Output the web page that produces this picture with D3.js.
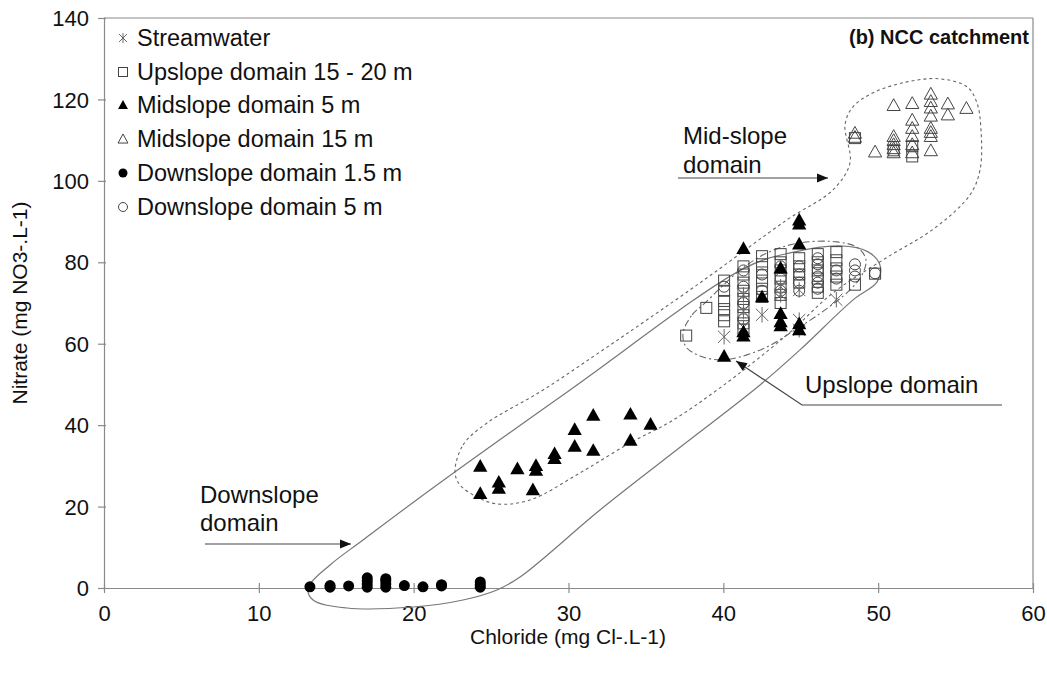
<!DOCTYPE html>
<html>
<head>
<meta charset="utf-8">
<script src="https://cdn.jsdelivr.net/npm/d3@7"></script>
<style>
  html, body { margin: 0; padding: 0; background: #fff; }
  svg { display: block; }
  text { font-family: "Liberation Sans", Arial, sans-serif; fill: #111; }
</style>
</head>
<body>
<svg id="chart" width="1047" height="681"></svg>
<script>
// ---------------- DATA ----------------
const xTicks = [0, 10, 20, 30, 40, 50, 60];
const yTicks = [0, 20, 40, 60, 80, 100, 120, 140];
const xTitle = "Chloride (mg Cl-.L-1)";
const yTitle = "Nitrate (mg NO3-.L-1)";
const panelTitle = "(b) NCC catchment";

const seriesNames = [
  "Streamwater",
  "Upslope domain 15 - 20 m",
  "Midslope domain 5 m",
  "Midslope domain 15 m",
  "Downslope domain 1.5 m",
  "Downslope domain 5 m"
];

// [chloride, nitrate]
const streamwater = [
  [40.05, 61.7], [41.3, 64.0], [41.3, 68.0], [42.5, 67.1], [43.7, 72.0],
  [43.7, 74.0], [44.9, 73.2], [44.9, 65.8], [44.9, 63.4], [47.3, 70.8], [41.3, 72.0]
];
const upslope1520 = [
  [37.6, 62.0], [38.9, 68.8],
  [40.05, 75.5], [40.05, 73.0], [40.05, 70.5], [40.05, 68.5], [40.05, 67.0], [40.05, 65.5],
  [41.3, 79.0], [41.3, 77.0], [41.3, 75.0], [41.3, 73.0], [41.3, 71.0], [41.3, 69.0], [41.3, 67.0], [41.3, 65.0], [41.3, 63.5],
  [42.5, 81.5], [42.5, 79.5], [42.5, 77.5], [42.5, 75.5], [42.5, 73.5], [42.5, 71.5],
  [43.7, 82.0], [43.7, 80.0], [43.7, 78.0], [43.7, 76.0], [43.7, 74.0], [43.7, 72.0], [43.7, 70.0],
  [44.9, 81.0], [44.9, 79.0], [44.9, 77.0], [44.9, 75.0],
  [46.1, 82.0], [46.1, 80.0], [46.1, 78.0], [46.1, 76.0], [46.1, 74.0], [46.1, 72.5],
  [47.3, 82.5], [47.3, 80.5], [47.3, 78.5], [47.3, 76.5], [47.3, 74.5],
  [48.5, 74.5], [49.8, 77.2],
  [48.5, 110.5], [51.0, 107.5], [52.2, 106.0], [52.2, 108.5]
];
const midslope5 = [
  [24.3, 30.0], [24.3, 23.3], [25.5, 26.1], [25.5, 24.6], [26.7, 29.4], [27.9, 30.2],
  [27.9, 29.0], [27.7, 24.2], [29.1, 33.1], [29.1, 31.9], [30.4, 39.0], [30.4, 34.9],
  [31.6, 42.5], [31.6, 33.9], [34.0, 42.8], [34.0, 36.4], [35.3, 40.3],
  [40.05, 57.0], [41.3, 83.5], [41.3, 63.0], [41.3, 62.0], [42.5, 71.6],
  [43.7, 78.7], [43.7, 67.5], [43.7, 65.5], [43.7, 64.5],
  [44.9, 90.5], [44.9, 89.5], [44.9, 84.6], [44.9, 65.0], [44.9, 63.5]
];
const midslope15 = [
  [48.5, 111.8], [48.5, 110.8], [49.8, 107.2],
  [51.0, 118.6], [51.0, 111.0], [51.0, 110.0], [51.0, 109.0], [51.0, 108.0], [51.0, 107.0],
  [52.2, 119.1], [52.2, 115.0], [52.2, 113.0], [52.2, 111.0], [52.2, 109.0], [52.2, 107.0],
  [53.4, 121.4], [53.4, 119.6], [53.4, 118.0], [53.4, 116.0], [53.4, 113.0], [53.4, 112.0], [53.4, 111.0], [53.4, 107.5],
  [54.5, 119.0], [54.5, 116.3], [55.7, 117.9]
];
const downslope15 = [
  [13.3, 0.3], [14.6, 0.2], [14.6, 0.6], [15.8, 0.5], [17.0, 0.2], [17.0, 1.0], [17.0, 1.8], [17.0, 2.5],
  [18.2, 0.2], [18.2, 1.0], [18.2, 1.8], [18.2, 2.3], [19.4, 0.6], [20.6, 0.3], [21.8, 0.5], [21.8, 0.8],
  [24.3, 0.2], [24.3, 0.8], [24.3, 1.5]
];
const downslope5 = [
  [40.05, 74.0], [41.3, 78.0], [41.3, 74.0], [41.3, 70.0], [41.3, 66.0],
  [42.5, 77.0], [42.5, 73.0], [43.7, 79.0], [43.7, 76.0], [43.7, 73.0],
  [44.9, 79.0], [44.9, 77.0], [44.9, 75.0], [44.9, 73.0],
  [46.1, 81.0], [46.1, 79.5], [46.1, 78.0], [46.1, 76.5], [46.1, 75.0], [46.1, 73.5],
  [47.3, 78.0], [47.3, 76.0], [48.5, 79.5], [48.5, 78.0], [48.5, 76.5], [49.8, 77.3]
];

// Domain envelopes (data units)
const downslopeEnvelope = [
  [13.18, 0], [14.6, 5.65], [16.73, 11.79], [21.06, 24.08], [30.10, 48.65], [41.4, 78.62],
  [44.31, 82.31], [47.54, 84.03], [49.35, 82.56], [50.13, 79.12], [49.93, 75.18], [48.38, 70.76],
  [44.95, 58.48], [42.37, 49.88], [36.56, 32.68], [32.03, 19.16], [26.87, 2.7], [25.38, -0.49],
  [23.19, -2.95], [19.96, -4.67], [15.69, -4.91], [13.5, -2.95]
];
const midslopeEnvelope = [
  [22.67, 28.5], [23.19, 35.14], [24.74, 40.54], [28.16, 48.16], [32.04, 57.99], [38.49, 74.94],
  [44.11, 90.42], [47.08, 97.79], [48.18, 104.42], [47.86, 113.76], [48.37, 118.18], [49.67, 121.62],
  [51.86, 124.32], [53.99, 125.06], [55.74, 123.1], [56.38, 119.16], [56.64, 112.53], [56.58, 102.7],
  [55.93, 96.56], [53.67, 88.45], [50.31, 80.59], [47.08, 72.48], [44.11, 62.16], [39.78, 49.14],
  [36.56, 40.79], [33.97, 35.63], [30.74, 28.26], [27.51, 21.62], [25.38, 20.64], [24.09, 22.36], [22.99, 25.31]
];
const upslopeEnvelope = [
  [37.4, 62.65], [37.98, 67.08], [38.82, 70.02], [40.95, 77.64], [42.82, 82.31], [44.95, 84.77],
  [47.34, 85.01], [48.7, 83.54], [49.21, 80.59], [48.96, 76.9], [48.18, 73.22], [46.57, 68.3],
  [44.63, 63.39], [42.82, 59.21], [41.08, 56.76], [39.79, 56.02], [38.49, 57.0], [37.59, 59.21]
];

// ---------------- CHART ----------------
const svg = d3.select("#chart");
const x = d3.scaleLinear().domain([0, 60]).range([104, 1033]);
const y = d3.scaleLinear().domain([0, 140]).range([588, 18]);
const AX = "#8a8a8a";

// frame top & right
svg.append("line").attr("x1", x(0)).attr("x2", x(60)).attr("y1", y(140)).attr("y2", y(140)).attr("stroke", AX).attr("stroke-width", 1.2);
svg.append("line").attr("x1", x(60)).attr("x2", x(60)).attr("y1", y(140)).attr("y2", y(0)).attr("stroke", AX).attr("stroke-width", 1.2);

// axes
const gx = svg.append("g").attr("transform", `translate(0,${y(0)})`)
  .call(d3.axisBottom(x).tickValues(xTicks).tickSize(0).tickPadding(0).tickFormat(d3.format("d")));
gx.select(".domain").attr("stroke", AX).attr("stroke-width", 1.2);
gx.selectAll(".tick line").attr("y1", -5).attr("y2", 5).attr("stroke", AX).attr("stroke-width", 1.2);
gx.selectAll(".tick text").attr("y", 25).attr("dy", "0.35em").style("font-size", "22px").attr("fill", "#111");

const gy = svg.append("g").attr("transform", `translate(${x(0)},0)`)
  .call(d3.axisLeft(y).tickValues(yTicks).tickSize(0).tickPadding(0).tickFormat(d3.format("d")));
gy.select(".domain").attr("stroke", AX).attr("stroke-width", 1.2);
gy.selectAll(".tick line").attr("x1", -6).attr("x2", 2).attr("stroke", AX).attr("stroke-width", 1.2);
gy.selectAll(".tick text").attr("x", -15).attr("dy", "0.35em").style("font-size", "22px").attr("fill", "#111");
gx.attr("font-family", null); gy.attr("font-family", null);

// titles
svg.append("text").attr("x", 568).attr("y", 644).attr("text-anchor", "middle").style("font-size", "21px").text(xTitle);
svg.append("text").attr("transform", `translate(27,${y(70)}) rotate(-90)`).attr("text-anchor", "middle").style("font-size", "21px").text(yTitle);
svg.append("text").attr("x", 1029).attr("y", 44).attr("text-anchor", "end").style("font-size", "20px").style("font-weight", "bold").text(panelTitle);

// envelopes
const env = d3.line().x(d => x(d[0])).y(d => y(d[1])).curve(d3.curveCatmullRomClosed.alpha(0.5));
svg.append("path").attr("d", env(downslopeEnvelope)).attr("fill", "none").attr("stroke", "#777").attr("stroke-width", 1.2);
svg.append("path").attr("d", env(midslopeEnvelope)).attr("fill", "none").attr("stroke", "#666").attr("stroke-width", 1.1).attr("stroke-dasharray", "3,3");
svg.append("path").attr("d", env(upslopeEnvelope)).attr("fill", "none").attr("stroke", "#666").attr("stroke-width", 1.1).attr("stroke-dasharray", "7,3,2,3");

// markers
const STROKE = "#444";
function drawMarker(g, type, cx, cy, s) {
  if (type === "star") {
    const r = s * 0.55;
    g.append("path").attr("d",
      `M${cx},${cy - r}L${cx},${cy + r}M${cx - r * 0.8},${cy - r * 0.8}L${cx + r * 0.8},${cy + r * 0.8}M${cx - r * 0.8},${cy + r * 0.8}L${cx + r * 0.8},${cy - r * 0.8}`)
      .attr("stroke", "#666").attr("stroke-width", 1).attr("fill", "none");
  } else if (type === "square") {
    g.append("rect").attr("x", cx - s / 2).attr("y", cy - s / 2).attr("width", s).attr("height", s)
      .attr("fill", "none").attr("stroke", STROKE).attr("stroke-width", 1);
  } else if (type === "triF" || type === "triO") {
    const h = s * 0.9, w = s * 1.1;
    const d = `M${cx},${cy - h / 2 - 1}L${cx + w / 2},${cy + h / 2}L${cx - w / 2},${cy + h / 2}Z`;
    if (type === "triF") g.append("path").attr("d", d).attr("fill", "#000");
    else g.append("path").attr("d", d).attr("fill", "none").attr("stroke", STROKE).attr("stroke-width", 1);
  } else if (type === "circF") {
    g.append("circle").attr("cx", cx).attr("cy", cy).attr("r", s / 2).attr("fill", "#000");
  } else if (type === "circO") {
    g.append("circle").attr("cx", cx).attr("cy", cy).attr("r", s / 2).attr("fill", "none").attr("stroke", STROKE).attr("stroke-width", 1);
  }
}

const series = [
  { data: upslope1520, type: "square", size: 11 },
  { data: downslope5, type: "circO", size: 11 },
  { data: midslope15, type: "triO", size: 12 },
  { data: streamwater, type: "star", size: 14 },
  { data: midslope5, type: "triF", size: 13 },
  { data: downslope15, type: "circF", size: 11 }
];
const marks = svg.append("g");
series.forEach(s => s.data.forEach(d => drawMarker(marks, s.type, x(d[0]), y(d[1]), s.size)));

// legend
const legendTypes = ["star", "square", "triF", "triO", "circF", "circO"];
const legendY = [38, 72, 105, 139, 173, 207];
const lg = svg.append("g");
seriesNames.forEach((name, i) => {
  drawMarker(lg, legendTypes[i], 123, legendY[i], 9);
  lg.append("text").attr("x", 137).attr("y", legendY[i]).attr("dy", "0.35em").style("font-size", "23.5px").text(name);
});

// annotations
function arrow(pts) {
  svg.append("path").attr("d", d3.line()(pts)).attr("fill", "none").attr("stroke", "#444").attr("stroke-width", 1.2);
  const [a, b] = [pts[pts.length - 2], pts[pts.length - 1]];
  const ang = Math.atan2(b[1] - a[1], b[0] - a[0]);
  const L = 11, W = 4.5;
  const p1 = [b[0] - L * Math.cos(ang) + W * Math.sin(ang), b[1] - L * Math.sin(ang) - W * Math.cos(ang)];
  const p2 = [b[0] - L * Math.cos(ang) - W * Math.sin(ang), b[1] - L * Math.sin(ang) + W * Math.cos(ang)];
  svg.append("path").attr("d", `M${b[0]},${b[1]}L${p1[0]},${p1[1]}L${p2[0]},${p2[1]}Z`).attr("fill", "#111");
}
svg.append("text").attr("x", 683).attr("y", 144).style("font-size", "24px").text("Mid-slope");
svg.append("text").attr("x", 683).attr("y", 173).style("font-size", "24px").text("domain");
arrow([[678, 178], [828, 178]]);

svg.append("text").attr("x", 200).attr("y", 503).style("font-size", "24px").text("Downslope");
svg.append("text").attr("x", 200).attr("y", 531).style("font-size", "24px").text("domain");
arrow([[205, 544], [351, 544]]);

svg.append("text").attr("x", 805).attr("y", 393).style("font-size", "24px").text("Upslope domain");
arrow([[1002, 405], [802, 405], [736, 361]]);
</script>
</body>
</html>
